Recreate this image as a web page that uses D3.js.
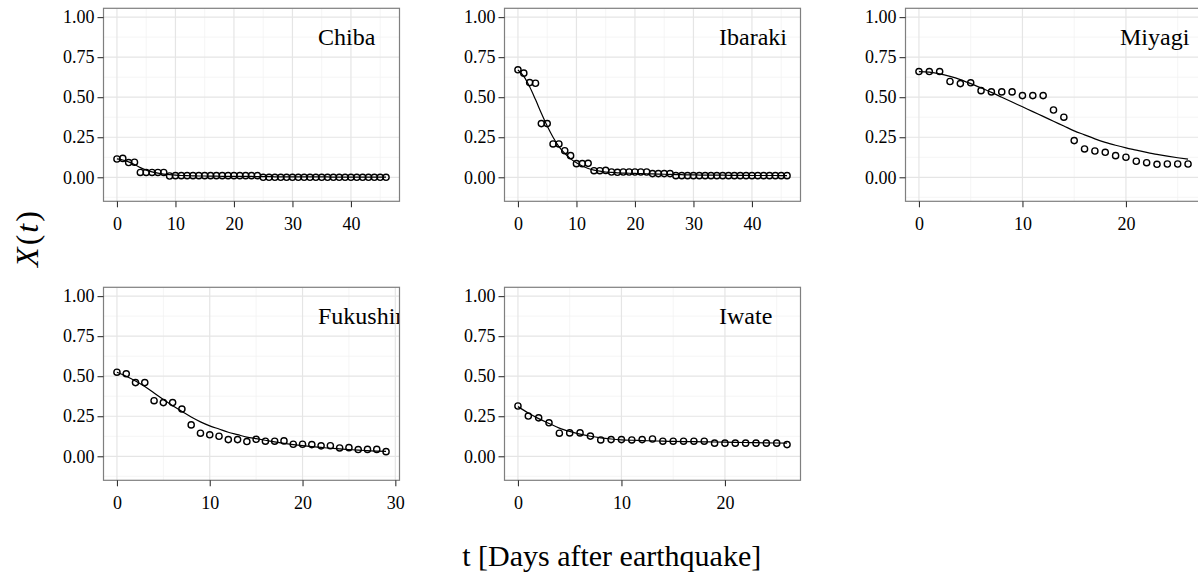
<!DOCTYPE html>
<html>
<head>
<meta charset="utf-8">
<script src="https://cdn.jsdelivr.net/npm/d3@7"></script>
<style>
  html, body { margin: 0; padding: 0; background: #fff; }
  svg { display: block; }
</style>
</head>
<body>
<svg id="chart" width="1198" height="576"></svg>
<script>
// ---------------- DATA ----------------
const panelNames = ["Chiba", "Ibaraki", "Miyagi", "Fukushima", "Iwate"];

// observed X(t), one value per day starting at t = 0
const chibaObs = [0.114, 0.118, 0.092, 0.094, 0.030, 0.030, 0.030, 0.030, 0.030, 0.008,
  0.010, 0.010, 0.010, 0.010, 0.010, 0.010, 0.010, 0.010, 0.010, 0.010,
  0.010, 0.010, 0.010, 0.010, 0.010, 0.000, 0.000, 0.000, 0.000, 0.000,
  0.000, 0.000, 0.000, 0.000, 0.000, 0.000, 0.000, 0.000, 0.000, 0.000,
  0.000, 0.000, 0.000, 0.000, 0.000, 0.000, 0.000];
const ibarakiObs = [0.671, 0.650, 0.591, 0.587, 0.335, 0.335, 0.208, 0.208, 0.166, 0.135,
  0.085, 0.085, 0.087, 0.041, 0.041, 0.043, 0.033, 0.031, 0.033, 0.033,
  0.033, 0.033, 0.033, 0.023, 0.023, 0.023, 0.023, 0.010, 0.010, 0.010,
  0.010, 0.010, 0.010, 0.010, 0.010, 0.010, 0.010, 0.010, 0.010, 0.010,
  0.010, 0.010, 0.010, 0.010, 0.010, 0.010, 0.010];
const miyagiObs = [0.660, 0.660, 0.660, 0.598, 0.585, 0.590, 0.541, 0.533, 0.533, 0.533,
  0.510, 0.510, 0.510, 0.420, 0.375, 0.229, 0.177, 0.164, 0.156, 0.135,
  0.125, 0.100, 0.091, 0.081, 0.083, 0.083, 0.083];
const fukushimaObs = [0.525, 0.515, 0.460, 0.460, 0.347, 0.335, 0.335, 0.295, 0.196, 0.144,
  0.134, 0.125, 0.104, 0.104, 0.092, 0.106, 0.094, 0.094, 0.096, 0.075,
  0.075, 0.073, 0.065, 0.066, 0.052, 0.054, 0.042, 0.043, 0.043, 0.029];
const iwateObs = [0.314, 0.251, 0.240, 0.209, 0.144, 0.146, 0.146, 0.126, 0.102, 0.104,
  0.104, 0.102, 0.104, 0.108, 0.094, 0.094, 0.094, 0.094, 0.094, 0.082,
  0.082, 0.082, 0.082, 0.082, 0.082, 0.082, 0.073];

// fitted model curve, one value per day starting at t = 0
const chibaFit = [0.115, 0.108, 0.096, 0.080, 0.060, 0.045, 0.034, 0.026, 0.020, 0.016,
  0.013, 0.011, 0.010, 0.009, 0.008, 0.008, 0.007, 0.007, 0.006, 0.006,
  0.006, 0.005, 0.005, 0.005, 0.004, 0.004, 0.004, 0.003, 0.003, 0.003,
  0.003, 0.002, 0.002, 0.002, 0.002, 0.002, 0.002, 0.001, 0.001, 0.001,
  0.001, 0.001, 0.001, 0.001, 0.001, 0.001, 0.001];
const ibarakiFit = [0.670, 0.630, 0.565, 0.485, 0.400, 0.320, 0.250, 0.192, 0.150, 0.115,
  0.090, 0.070, 0.055, 0.045, 0.038, 0.033, 0.030, 0.028, 0.026, 0.025,
  0.024, 0.023, 0.022, 0.021, 0.020, 0.019, 0.018, 0.017, 0.016, 0.015,
  0.015, 0.014, 0.014, 0.013, 0.013, 0.013, 0.012, 0.012, 0.012, 0.012,
  0.011, 0.011, 0.011, 0.011, 0.011, 0.010, 0.010];
const miyagiFit = [0.660, 0.656, 0.646, 0.630, 0.610, 0.585, 0.558, 0.530, 0.500, 0.470,
  0.440, 0.410, 0.380, 0.350, 0.320, 0.290, 0.265, 0.240, 0.218, 0.200,
  0.184, 0.170, 0.156, 0.143, 0.132, 0.122, 0.113];
const fukushimaFit = [0.525, 0.500, 0.470, 0.435, 0.395, 0.355, 0.315, 0.280, 0.245, 0.215,
  0.190, 0.170, 0.150, 0.135, 0.120, 0.110, 0.100, 0.090, 0.081, 0.073,
  0.066, 0.060, 0.055, 0.050, 0.046, 0.042, 0.038, 0.035, 0.032, 0.030];
const iwateFit = [0.310, 0.270, 0.235, 0.205, 0.176, 0.155, 0.138, 0.125, 0.115, 0.108,
  0.103, 0.100, 0.098, 0.096, 0.094, 0.093, 0.092, 0.091, 0.090, 0.089,
  0.088, 0.087, 0.086, 0.085, 0.084, 0.083, 0.082];

const chibaXTicks = [0, 10, 20, 30, 40];
const ibarakiXTicks = [0, 10, 20, 30, 40];
const miyagiXTicks = [0, 10, 20];
const fukushimaXTicks = [0, 10, 20, 30];
const iwateXTicks = [0, 10, 20];

const yTicks = [0, 0.25, 0.5, 0.75, 1.0];
const yTickLabels = ["0.00", "0.25", "0.50", "0.75", "1.00"];

const xTitle = "t [Days after earthquake]";

// ---------------- LAYOUT ----------------
const FONT = "'Liberation Serif', 'Times New Roman', serif";
const colLeft = [103.5, 504.5, 905.5];
const rowTop = [8.3, 287.3];
const PW = 296, PH = 193;
const yDomain = [-0.15, 1.055];

const panels = [
  { name: panelNames[0], obs: chibaObs, fit: chibaFit, ticks: chibaXTicks, col: 0, row: 0 },
  { name: panelNames[1], obs: ibarakiObs, fit: ibarakiFit, ticks: ibarakiXTicks, col: 1, row: 0 },
  { name: panelNames[2], obs: miyagiObs, fit: miyagiFit, ticks: miyagiXTicks, col: 2, row: 0 },
  { name: panelNames[3], obs: fukushimaObs, fit: fukushimaFit, ticks: fukushimaXTicks, col: 0, row: 1 },
  { name: panelNames[4], obs: iwateObs, fit: iwateFit, ticks: iwateXTicks, col: 1, row: 1 }
];

const svg = d3.select("#chart");
svg.append("rect").attr("width", 1198).attr("height", 576).attr("fill", "#fff");

function midpoints(ticks, domain) {
  const step = ticks.length > 1 ? ticks[1] - ticks[0] : 1;
  const out = [];
  for (let v = ticks[0] - step / 2; v <= domain[1]; v += step) {
    if (v >= domain[0]) out.push(v);
  }
  return out;
}

panels.forEach((p, idx) => {
  const n = p.obs.length - 1;
  const ext = n * 0.05;
  const x = d3.scaleLinear().domain([-ext, n + ext]).range([0, PW]);
  const y = d3.scaleLinear().domain(yDomain).range([PH, 0]);

  const g = svg.append("g")
    .attr("transform", `translate(${colLeft[p.col]},${rowTop[p.row]})`);

  const clipId = "clip" + idx;
  g.append("clipPath").attr("id", clipId)
    .append("rect").attr("width", PW).attr("height", PH);

  const inner = g.append("g").attr("clip-path", `url(#${clipId})`);
  inner.append("rect").attr("width", PW).attr("height", PH).attr("fill", "#fff");

  // minor grid
  const xMinor = midpoints(p.ticks, x.domain());
  const yMinor = midpoints(yTicks, yDomain);
  inner.selectAll(".xminor").data(xMinor).join("line")
    .attr("x1", d => x(d)).attr("x2", d => x(d)).attr("y1", 0).attr("y2", PH)
    .attr("stroke", "#f3f3f3").attr("stroke-width", 0.8);
  inner.selectAll(".yminor").data(yMinor).join("line")
    .attr("y1", d => y(d)).attr("y2", d => y(d)).attr("x1", 0).attr("x2", PW)
    .attr("stroke", "#f3f3f3").attr("stroke-width", 0.8);
  // major grid
  inner.selectAll(".xmajor").data(p.ticks).join("line")
    .attr("x1", d => x(d)).attr("x2", d => x(d)).attr("y1", 0).attr("y2", PH)
    .attr("stroke", "#e5e5e5").attr("stroke-width", 1.2);
  inner.selectAll(".ymajor").data(yTicks).join("line")
    .attr("y1", d => y(d)).attr("y2", d => y(d)).attr("x1", 0).attr("x2", PW)
    .attr("stroke", "#e5e5e5").attr("stroke-width", 1.2);

  // fitted line
  const line = d3.line()
    .x((d, i) => x(i))
    .y(d => y(d))
    .curve(d3.curveMonotoneX);
  inner.append("path").datum(p.fit)
    .attr("d", line)
    .attr("fill", "none").attr("stroke", "#000").attr("stroke-width", 1.2);

  // observed points
  inner.selectAll(".pt").data(p.obs).join("circle")
    .attr("cx", (d, i) => x(i)).attr("cy", d => y(d)).attr("r", 3.1)
    .attr("fill", "none").attr("stroke", "#000").attr("stroke-width", 1.4);

  // panel label
  inner.append("text")
    .attr("x", 214.5).attr("y", 36.5)
    .attr("font-family", FONT).attr("font-size", 24)
    .attr("fill", "#000")
    .text(p.name);

  // border
  g.append("rect").attr("width", PW).attr("height", PH)
    .attr("fill", "none").attr("stroke", "#7f7f7f").attr("stroke-width", 1.2);

  // axes
  const yAxis = d3.axisLeft(y).tickValues(yTicks)
    .tickFormat((d, i) => yTickLabels[i]).tickSize(6).tickPadding(3);
  const ya = g.append("g").call(yAxis);
  ya.select(".domain").remove();
  ya.selectAll("line").attr("stroke", "#333").attr("stroke-width", 1.1);
  ya.selectAll("text").attr("font-family", FONT).attr("font-size", 18).attr("fill", "#000");

  const xAxis = d3.axisBottom(x).tickValues(p.ticks).tickSize(6).tickPadding(10);
  const xa = g.append("g").attr("transform", `translate(0,${PH})`).call(xAxis);
  xa.select(".domain").remove();
  xa.selectAll("line").attr("stroke", "#333").attr("stroke-width", 1.1);
  xa.selectAll("text").attr("font-family", FONT).attr("font-size", 18).attr("fill", "#000");
});

// axis titles
svg.append("text")
  .attr("x", 611.7).attr("y", 566)
  .attr("text-anchor", "middle")
  .attr("font-family", FONT).attr("font-size", 30).attr("fill", "#000")
  .text(xTitle);

const yt = svg.append("text")
  .attr("transform", "translate(27,238) rotate(-90)")
  .attr("text-anchor", "middle").attr("dy", "0.35em")
  .attr("letter-spacing", "2px")
  .attr("font-family", FONT).attr("font-size", 32).attr("fill", "#000");
yt.append("tspan").attr("font-style", "italic").text("X");
yt.append("tspan").text("(");
yt.append("tspan").attr("font-style", "italic").text("t");
yt.append("tspan").text(")");
</script>
</body>
</html>
